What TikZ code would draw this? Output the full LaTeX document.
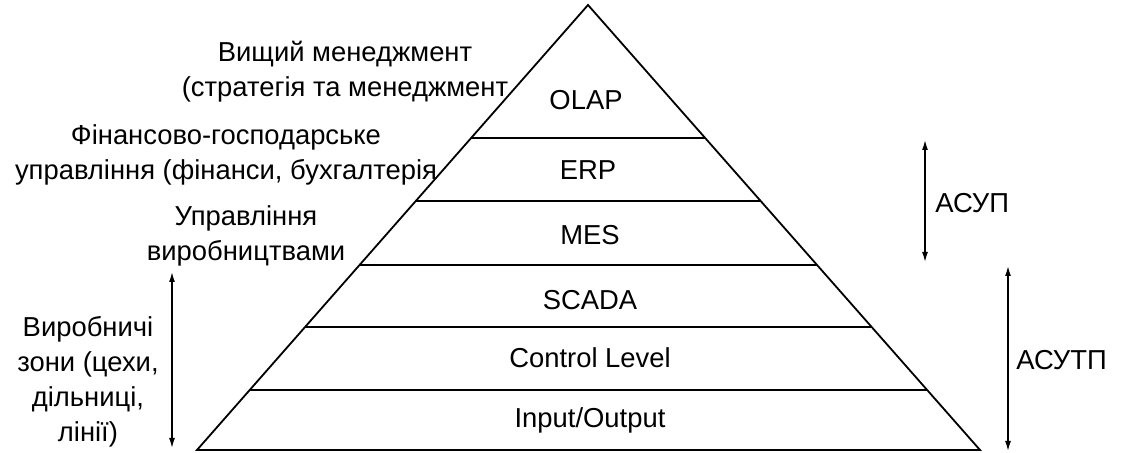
\documentclass[tikz,border=0pt]{standalone}
\usepackage{fontspec}
\setmainfont{Liberation Sans}
\usetikzlibrary{calc,arrows.meta}

\begin{document}
\begin{tikzpicture}[
        x=0.5pt, y=-0.5pt,
        font=\fontsize{13.7}{17.5}\selectfont,
        edge/.style={line width=0.9pt},
        note/.style={align=center, inner sep=0pt},
        span/.style={line width=0.7pt, {Latex[length=5pt,width=3pt]}-{Latex[length=5pt,width=3pt]}}
    ]
    \useasboundingbox (0,0) rectangle (1123,453);

    % The Pyramid
    \coordinate (apex) at (588,5); \coordinate (bl) at (197,450); \coordinate (br) at (980,450);
    \draw[edge] (bl) -- (apex) -- (br) -- cycle;
    \foreach \y in {138,201,265,327,390} {
        \draw[edge] ($(apex)!{(\y-5)/445}!(bl)$) -- ($(apex)!{(\y-5)/445}!(br)$);
    }

    % Levels
    \node[note] (olap) at (586,100) {OLAP}; \node[note] (erp) at (588,170) {ERP}; \node[note] (mes) at (590,235) {MES};
    \node[note] (scada) at (590,300) {SCADA}; \node[note] (control) at (590,358) {Control Level}; \node[note] (io) at (590,420) {Input/Output};

    % Left labels
    \node[note] (top) at (345,72) {Вищий менеджмент \\ (стратегія та менеджмент};
    \node[note] (fin) at (226,155) {Фінансово-господарське \\ управління (фінанси, бухгалтерія};
    \node[note] (prod) at (246,236) {Управління \\ виробництвами};
    \node[note] (zones) at (88,382) {Виробничі \\ зони (цехи, \\ дільниці, \\ лінії)};

    % Spans
    \coordinate (zoneTop) at (172,272); \coordinate (zoneBot) at (172,448);
    \draw[span] (zoneTop) -- (zoneBot);
    \coordinate (asupTop) at (925,140); \coordinate (asupBot) at (925,262);
    \draw[span] (asupTop) -- (asupBot);
    \node[note, anchor=west] (asup) at (935,203) {АСУП};
    \coordinate (asutpTop) at (1008,266); \coordinate (asutpBot) at (1008,451);
    \draw[span] (asutpTop) -- (asutpBot);
    \node[note, anchor=west] (asutp) at (1016,360) {АСУТП};

\end{tikzpicture}
\end{document}
